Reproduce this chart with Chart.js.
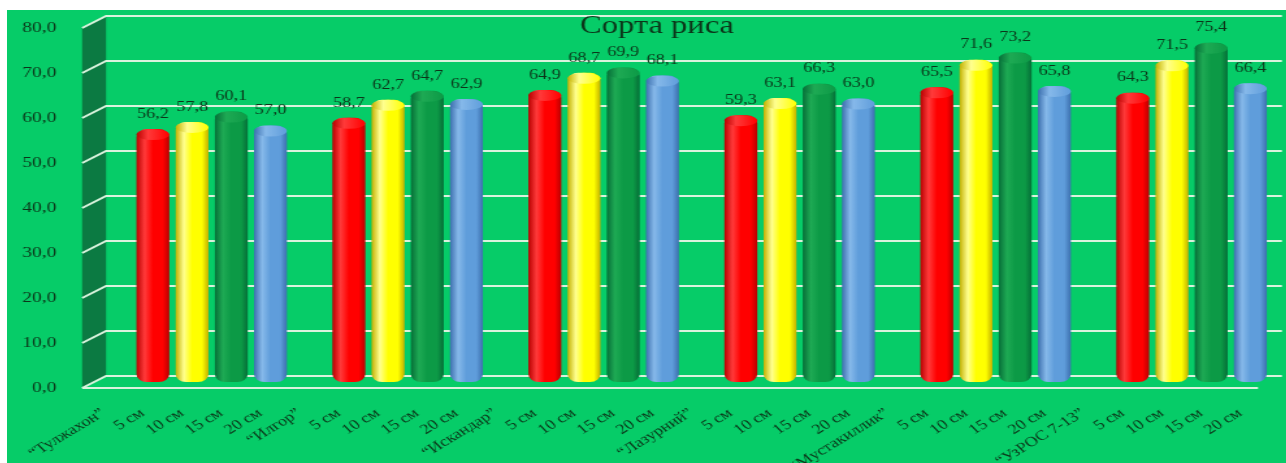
<!DOCTYPE html>
<html>
<head>
<meta charset="utf-8">
<script src="https://cdn.jsdelivr.net/npm/chart.js@4.4.1/dist/chart.umd.min.js"></script>
<style>
  html, body { margin: 0; padding: 0; background: #ffffff; overflow: hidden; }
  #wrap { position: absolute; left: 7px; top: 10px; width: 1279px; height: 453px; overflow: hidden; background: #06cc68; }
  #c { position: absolute; left: 0; top: 0; transform: scaleX(1.3); transform-origin: 0 0; }
</style>
</head>
<body>
<div id="wrap"><canvas id="c" width="984" height="453"></canvas></div>
<script>
// Rice varieties and seedling lengths
const varieties = ['“Тулжахон”', '“Илгор”', '“Искандар”', '“Лазурний”', '“Мустакиллик”', '“УзРОС 7-13”'];
const lengths = ['5 см', '10 см', '15 см', '20 см'];

// Values for each length, one entry per variety
const len5  = [56.2, 58.7, 64.9, 59.3, 65.5, 64.3];
const len10 = [57.8, 62.7, 68.7, 63.1, 71.6, 71.5];
const len15 = [60.1, 64.7, 69.9, 66.3, 73.2, 75.4];
const len20 = [57.0, 62.9, 68.1, 63.0, 65.8, 66.4];

const yMin = 0, yMax = 80, yStep = 10;
const chartTitle = 'Сорта риса';

// Category axis: variety name followed by its four lengths
const labels = [];
varieties.forEach(v => { labels.push(v); lengths.forEach(l => labels.push(l)); });

const series = [len5, len10, len15, len20];
// [base, dark edge, highlight]
const palette = [
  ['#ff0000', '#b80000', '#ff3a3a'],
  ['#ffff00', '#c2b000', '#ffff90'],
  ['#0c9a46', '#066e38', '#1eaa54'],
  ['#5f9ddb', '#3c6fae', '#86b9ea']
];

const barShare = 0.84;
const depthX = 9.2;   // half depth of the 3D frame, horizontal
const depthY = 6;     // half depth of the 3D frame, vertical
const textColor = '#0c3519';
const serif = '"Liberation Serif", "DejaVu Serif", serif';

function barHalfWidth(chart) {
  const xs = chart.scales.x;
  return xs.width / labels.length * barShare / 2;
}

function cylinderFill(p) {
  return (c) => {
    const chart = c.chart;
    const xs = chart.scales && chart.scales.x;
    if (!xs || !chart.chartArea || c.dataIndex === undefined) return p[0];
    const cx = xs.getPixelForValue(c.dataIndex);
    const half = barHalfWidth(chart);
    const g = chart.ctx.createLinearGradient(cx - half, 0, cx + half, 0);
    g.addColorStop(0, p[1]);
    g.addColorStop(0.25, p[2]);
    g.addColorStop(0.5, p[0]);
    g.addColorStop(0.8, p[0]);
    g.addColorStop(1, p[1]);
    return g;
  };
}

const datasets = series.map((vals, k) => {
  const data = new Array(labels.length).fill(null);
  vals.forEach((v, g) => { data[g * 5 + 1 + k] = v; });
  return {
    label: lengths[k],
    data,
    backgroundColor: cylinderFill(palette[k]),
    borderWidth: 0,
    borderSkipped: false,
    borderRadius: 8
  };
});

const fmt = v => Number(v).toFixed(1).replace('.', ',');

// Back wall, side wall and floor of the 3D frame
const frame3d = {
  id: 'frame3d',
  beforeDatasetsDraw(chart) {
    const { ctx, chartArea: a, scales: { y } } = chart;
    const L = a.left, R = a.right;
    const back = v => y.getPixelForValue(v) - depthY;
    const front = v => y.getPixelForValue(v) + depthY;
    ctx.save();
    ctx.fillStyle = '#0b7a42';
    ctx.beginPath();
    ctx.moveTo(L - depthX, front(yMax));
    ctx.lineTo(L + depthX, back(yMax));
    ctx.lineTo(L + depthX, back(yMin));
    ctx.lineTo(L - depthX, front(yMin));
    ctx.closePath();
    ctx.fill();
    ctx.strokeStyle = '#d9f3dd';
    ctx.lineWidth = 2;
    for (let v = yMin; v <= yMax; v += yStep) {
      ctx.beginPath();
      ctx.moveTo(L - depthX, front(v));
      ctx.lineTo(L + depthX, back(v));
      ctx.lineTo(R + depthX, back(v));
      ctx.stroke();
    }
    ctx.beginPath();
    ctx.moveTo(L - depthX, front(yMin));
    ctx.lineTo(R - depthX, front(yMin));
    ctx.stroke();
    ctx.restore();
  }
};

// Cylinder caps and value labels
const capsAndValues = {
  id: 'capsAndValues',
  afterDatasetsDraw(chart) {
    const ctx = chart.ctx;
    ctx.save();
    chart.data.datasets.forEach((ds, k) => {
      const meta = chart.getDatasetMeta(k);
      const p = palette[k];
      meta.data.forEach((el, i) => {
        const v = ds.data[i];
        if (v === null || v === undefined) return;
        const rx = el.width / 2, ry = 5.5;
        const cy = el.y + ry;
        const g = ctx.createLinearGradient(el.x - rx, 0, el.x + rx, 0);
        g.addColorStop(0, p[1]);
        g.addColorStop(0.35, p[2]);
        g.addColorStop(1, p[0]);
        ctx.fillStyle = g;
        ctx.beginPath();
        ctx.ellipse(el.x, cy, rx, ry, 0, 0, Math.PI * 2);
        ctx.fill();
        ctx.fillStyle = textColor;
        ctx.font = '14px ' + serif;
        ctx.textAlign = 'center';
        ctx.textBaseline = 'middle';
        ctx.fillText(fmt(v), el.x, el.y - 15);
      });
    });
    ctx.restore();
  }
};

const heading = {
  id: 'heading',
  afterDraw(chart) {
    const ctx = chart.ctx;
    ctx.save();
    ctx.fillStyle = textColor;
    ctx.font = '25px ' + serif;
    ctx.textAlign = 'center';
    ctx.textBaseline = 'middle';
    ctx.fillText(chartTitle, 500, 16);
    ctx.restore();
  }
};

new Chart(document.getElementById('c'), {
  type: 'bar',
  data: { labels, datasets },
  options: {
    responsive: false,
    animation: false,
    events: [],
    layout: { padding: { left: 0, right: 12.5, top: 12, bottom: 0 } },
    datasets: { bar: { grouped: false, categoryPercentage: 1, barPercentage: barShare } },
    plugins: { legend: { display: false }, title: { display: false }, tooltip: { enabled: false } },
    scales: {
      x: {
        grid: { display: false },
        border: { display: false },
        ticks: {
          autoSkip: false,
          minRotation: 38,
          maxRotation: 38,
          padding: 15,
          labelOffset: -8,
          color: textColor,
          font: { family: serif, size: 14 }
        },
        afterFit(s) { s.height = 81; s.paddingLeft = 0; s.paddingRight = 0; }
      },
      y: {
        min: yMin,
        max: yMax,
        grid: { display: false },
        border: { display: false },
        ticks: {
          stepSize: yStep,
          padding: 21,
          labelOffset: depthY,
          color: textColor,
          font: { family: serif, size: 15 },
          callback: v => fmt(v)
        },
        afterFit(s) { s.width = 67; s.paddingTop = 0; s.paddingBottom = 0; }
      }
    }
  },
  plugins: [frame3d, capsAndValues, heading]
});
</script>
</body>
</html>
